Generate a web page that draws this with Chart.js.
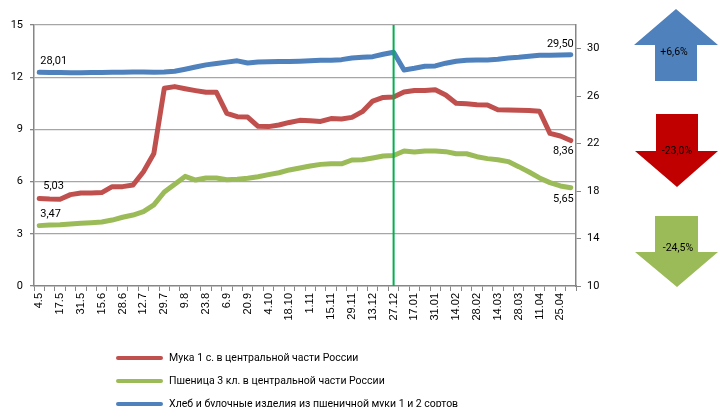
<!DOCTYPE html>
<html><head><meta charset="utf-8">
<script src="https://cdn.jsdelivr.net/npm/chart.js@4"></script>
<style>
html,body{margin:0;padding:0;background:#fff;}
#wrap{position:relative;width:724px;height:407px;overflow:hidden;}
#c{position:absolute;left:0;top:0;}
#arrows{position:absolute;left:0;top:0;}
#legend{position:absolute;left:116px;top:346px;font:10.5px Roboto, sans-serif;color:#000;}
.li{height:23px;display:flex;align-items:center;}
.sw{width:47px;height:4px;border-radius:2px;margin-right:6px;}
</style></head><body>
<div id="wrap">
<canvas id="c" width="724" height="407"></canvas>
<svg id="arrows" width="724" height="407"></svg>
<div id="legend"></div>
</div>
<script>
const categories = ['4.5','10.5','17.5','24.5','31.5','7.6','15.6','21.6','28.6','5.7','12.7','19.7','29.7','2.8','9.8','16.8','23.8','30.8','6.9','13.9','20.9','27.9','4.10','11.10','18.10','25.10','1.11','8.11','15.11','22.11','29.11','6.12','13.12','20.12','27.12','10.01','17.01','24.01','31.01','7.02','14.02','21.02','28.02','7.03','14.03','21.03','28.03','4.04','11.04','18.04','25.04','2.05'];
const seriesNames = ['Мука 1 с. в центральной части России','Пшеница 3 кл. в центральной части России','Хлеб и булочные изделия из пшеничной муки 1 и 2 сортов'];
const flour = [5.03,5.00,4.99,5.25,5.35,5.35,5.37,5.71,5.71,5.80,6.57,7.62,11.36,11.46,11.34,11.23,11.13,11.13,9.92,9.73,9.71,9.18,9.16,9.25,9.40,9.52,9.50,9.46,9.62,9.60,9.69,10.02,10.63,10.84,10.86,11.15,11.23,11.23,11.28,10.98,10.50,10.47,10.42,10.40,10.13,10.12,10.10,10.08,10.04,8.77,8.62,8.36];
const wheat = [3.47,3.51,3.52,3.56,3.60,3.64,3.68,3.79,3.95,4.08,4.27,4.66,5.40,5.85,6.30,6.09,6.21,6.21,6.11,6.13,6.19,6.28,6.40,6.51,6.67,6.78,6.90,6.99,7.03,7.02,7.24,7.26,7.36,7.47,7.50,7.76,7.70,7.76,7.76,7.72,7.60,7.60,7.43,7.32,7.26,7.15,6.86,6.55,6.21,5.94,5.75,5.65];
const bread = [28.01,28.00,27.99,27.98,27.98,27.99,28.00,28.01,28.02,28.03,28.03,28.02,28.04,28.10,28.27,28.46,28.64,28.75,28.87,28.98,28.80,28.88,28.90,28.92,28.93,28.95,28.98,29.02,29.03,29.08,29.22,29.28,29.33,29.53,29.70,28.21,28.35,28.52,28.55,28.78,28.95,29.03,29.06,29.06,29.11,29.22,29.28,29.37,29.45,29.45,29.48,29.50];
const leftTickValues = [0,3,6,9,12,15];
const rightTickValues = [10,14,18,22,26,30];
const rightMax = 32;
const markerLabel = '27.12';
const changeLabels = ['+6,6%','-23,0%','-24,5%'];

const colors = ['#C0504D','#9BBB59','#4F81BD'];
const FONT = 'Roboto';

const fmt = v => v.toFixed(2).replace('.', ',');

const markerPlugin = {
  id:'marker',
  afterDatasetsDraw(chart){
    const {ctx, chartArea, scales} = chart;
    const x = scales.x.getPixelForValue(categories.indexOf(markerLabel));
    ctx.save();
    ctx.strokeStyle = '#00B050';
    ctx.lineWidth = 2;
    ctx.beginPath();
    ctx.moveTo(x, chartArea.top);
    ctx.lineTo(x, chartArea.bottom);
    ctx.stroke();
    ctx.restore();
  }
};

const labelPlugin = {
  id:'endLabels',
  afterDatasetsDraw(chart){
    const ctx = chart.ctx;
    ctx.save();
    ctx.font = '11px ' + FONT;
    ctx.fillStyle = '#000';
    ctx.textBaseline = 'middle';
    const cfg = [
      {s:-12, e:11},
      {s:-11, e:12},
      {s:-11, e:-10}
    ];
    chart.data.datasets.forEach((ds, i) => {
      const meta = chart.getDatasetMeta(i);
      const first = meta.data[0], last = meta.data[meta.data.length-1];
      ctx.textAlign = 'left';
      ctx.fillText(fmt(ds.data[0]), first.x + (i===0?4:1), first.y + cfg[i].s);
      ctx.textAlign = 'right';
      ctx.fillText(fmt(ds.data[ds.data.length-1]), last.x + 3, last.y + cfg[i].e);
    });
    ctx.restore();
  }
};

const ds = (label, data, color, axis) => ({
  label, data, borderColor: color, backgroundColor: color, yAxisID: axis,
  borderWidth: 5, pointRadius: 0, pointHoverRadius: 0, tension: 0,
  borderCapStyle: 'round', borderJoinStyle: 'round', fill: false
});

new Chart(document.getElementById('c'), {
  type: 'line',
  data: {
    labels: categories,
    datasets: [
      ds(seriesNames[0], flour, colors[0], 'y'),
      ds(seriesNames[1], wheat, colors[1], 'y'),
      ds(seriesNames[2], bread, colors[2], 'y1')
    ]
  },
  options: {
    responsive: false,
    devicePixelRatio: 1,
    animation: false,
    events: [],
    layout: {padding: {left: 0, right: 108, top: 25, bottom: 0}},
    plugins: {legend: {display: false}, tooltip: {enabled: false}},
    scales: {
      x: {
        type: 'category', offset: true,
        grid: {display: true, drawOnChartArea: false, offset: true, tickLength: 5, color: '#868686', lineWidth: 1},
        border: {color: '#868686', width: 1.5},
        ticks: {
          autoSkip: false, minRotation: 90, maxRotation: 90, padding: 2,
          color: '#000', font: {family: 'Liberation Sans', size: 11},
          callback: function(v, i){ return i % 2 === 0 ? this.getLabelForValue(v) : ''; }
        },
        afterFit: s => { s.height = 121; }
      },
      y: {
        position: 'left', min: leftTickValues[0], max: leftTickValues[leftTickValues.length-1],
        ticks: {color: '#000', font: {family: FONT, size: 11}, padding: 7},
        afterBuildTicks: s => { s.ticks = leftTickValues.map(v => ({value: v})); },
        grid: {
          color: c => c.tick && c.tick.value === 0 ? 'rgba(0,0,0,0)' : '#A6A6A6',
          borderDash: [5,3], lineWidth: 1.3, tickLength: 4, tickColor: '#868686', tickBorderDash: [0,0]
        },
        border: {color: '#868686', width: 1.5},
        afterFit: s => { s.width = 34; }
      },
      y1: {
        position: 'right', min: rightTickValues[0], max: rightMax,
        ticks: {color: '#000', font: {family: FONT, size: 11}, padding: 6},
        afterBuildTicks: s => { s.ticks = rightTickValues.map(v => ({value: v})); },
        grid: {drawOnChartArea: false, tickLength: 5, color: '#868686'},
        border: {color: '#868686', width: 1.5},
        afterFit: s => { s.width = 40; }
      }
    }
  },
  plugins: [markerPlugin, labelPlugin]
});

const lg = document.getElementById('legend');
seriesNames.forEach((n, i) => {
  const row = document.createElement('div'); row.className = 'li';
  const sw = document.createElement('div'); sw.className = 'sw'; sw.style.background = colors[i];
  const t = document.createElement('span'); t.textContent = n;
  row.appendChild(sw); row.appendChild(t); lg.appendChild(row);
});

const NS = 'http://www.w3.org/2000/svg';
const svg = document.getElementById('arrows');
const arrowShapes = [
  {pts:'676,9 718,45 697,45 697,81 655,81 655,45 634,45', color:'#4F81BD', tx:674, ty:52},
  {pts:'656,114 698,114 698,151 718,151 677,187 635,151 656,151', color:'#C00000', tx:677, ty:151},
  {pts:'655,216 698,216 698,252 718,252 677,287 635,252 655,252', color:'#9BBB59', tx:678, ty:248}
];
arrowShapes.forEach((a, i) => {
  const p = document.createElementNS(NS, 'polygon');
  p.setAttribute('points', a.pts); p.setAttribute('fill', a.color);
  svg.appendChild(p);
  const t = document.createElementNS(NS, 'text');
  t.setAttribute('x', a.tx); t.setAttribute('y', a.ty);
  t.setAttribute('text-anchor', 'middle'); t.setAttribute('dominant-baseline', 'middle');
  t.setAttribute('font-family', FONT); t.setAttribute('font-size', '10.5'); t.setAttribute('fill', '#000');
  t.textContent = changeLabels[i];
  svg.appendChild(t);
});
</script>
</body></html>
